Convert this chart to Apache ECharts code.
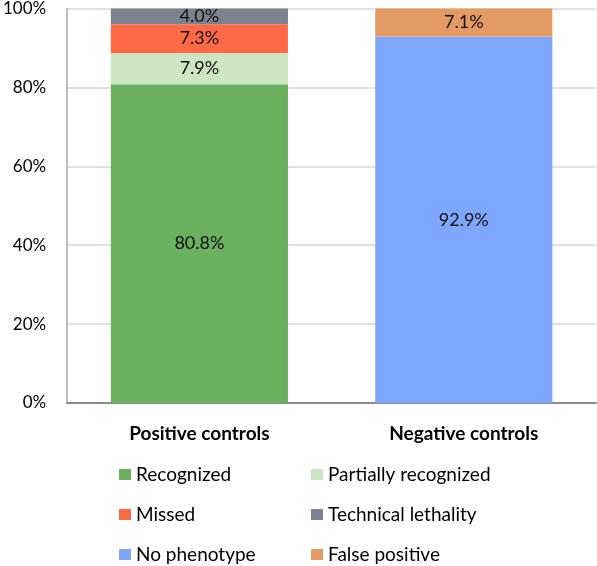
<!DOCTYPE html>
<html>
<head>
<meta charset="utf-8">
<script src="https://cdn.jsdelivr.net/npm/echarts@6/dist/echarts.min.js"></script>
<style>html,body{margin:0;padding:0;background:#fff}#c{width:597px;height:566px}</style>
</head>
<body>
<div id="c"></div>
<script>
const categories = ['Positive controls', 'Negative controls'];
const recognized = [80.8, null];
const partiallyRecognized = [7.9, null];
const missed = [7.3, null];
const technicalLethality = [4.0, null];
const noPhenotype = [null, 92.9];
const falsePositive = [null, 7.1];
const yTicks = [0, 20, 40, 60, 80, 100];

const FONT = 'Lato';
const chart = echarts.init(document.getElementById('c'));

function s(name, data, color) {
  return {
    name: name, type: 'bar', stack: 'total', data: data, barWidth: '67%',
    itemStyle: { color: color },
    label: {
      show: true, position: 'inside', color: '#111', fontFamily: FONT, fontSize: 18,
      formatter: p => p.value == null ? '' : p.value.toFixed(1) + '%'
    }
  };
}

const legendCommon = {
  orient: 'vertical', top: 465, itemGap: 21, itemWidth: 12, itemHeight: 11,
  padding: 0, height: 101, icon: 'rect',
  textStyle: { fontSize: 19, fontFamily: FONT, color: '#000', lineHeight: 17 }
};

chart.setOption({
  animation: false,
  textStyle: { fontFamily: FONT },
  grid: { left: 66, right: 1, top: 6, bottom: 163 },
  xAxis: {
    type: 'category', data: categories,
    axisLine: { show: true, lineStyle: { color: '#8c8c8c', width: 2 } },
    axisTick: { show: false },
    axisLabel: { color: '#000', fontWeight: 'bold', fontSize: 19, fontFamily: FONT, margin: 21 }
  },
  yAxis: {
    type: 'value', min: 0, max: 100, interval: 20,
    axisLine: { show: true, lineStyle: { color: '#a6a6a6', width: 1.5 } },
    axisTick: { show: false },
    splitLine: { lineStyle: { color: '#d9d9d9', width: 1.5 } },
    axisLabel: {
      color: '#000', fontSize: 17, fontFamily: FONT, margin: 21,
      formatter: v => yTicks.includes(v) ? v + '%' : ''
    }
  },
  legend: [
    Object.assign({ left: 119, data: ['Recognized', 'Missed', 'No phenotype'] }, legendCommon),
    Object.assign({ left: 311, data: ['Partially recognized', 'Technical lethality', 'False positive'] }, legendCommon)
  ],
  series: [
    s('Recognized', recognized, '#6ab05f'),
    s('Partially recognized', partiallyRecognized, '#cde5c2'),
    s('Missed', missed, '#ff6a46'),
    s('Technical lethality', technicalLethality, '#79828e'),
    s('No phenotype', noPhenotype, '#7fa7fd'),
    s('False positive', falsePositive, '#e49b63')
  ]
});
</script>
</body>
</html>
